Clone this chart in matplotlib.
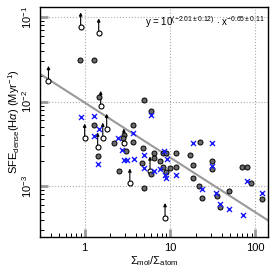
import numpy as np
import matplotlib
matplotlib.use("Agg")
import matplotlib.pyplot as plt
from matplotlib.ticker import LogLocator, NullFormatter

plt.rcParams["font.family"] = ["Liberation Sans", "DejaVu Sans"]
plt.rcParams["mathtext.fontset"] = "custom"
plt.rcParams["mathtext.rm"] = "Liberation Sans"
plt.rcParams["mathtext.it"] = "Liberation Sans:italic"

# filled circles (detections)
fill_x = [0.873, 1.276, 1.46, 1.276, 1.42, 2.19, 2.51, 3.67, 4.94, 5.98, 3.67, 2.88,
          2.80, 3.04, 4.94, 4.81, 4.69, 5.98, 6.48, 6.48, 7.63, 8.27, 8.97, 8.27,
          8.97, 10.0, 11.8, 11.8, 17.2, 18.7, 18.7, 22.5, 31.2, 31.2, 21.9, 23.8,
          35.7, 49.4, 38.7, 70.3, 80.5, 89.7, 117.7]
fill_y = [0.0312, 0.0312, 0.01146, 0.00536, 0.00225, 0.00321, 0.00150, 0.00338,
          0.0105, 0.00783, 0.00536, 0.00409, 0.00367, 0.00258, 0.000946, 0.00280,
          0.00187, 0.00138, 0.00245, 0.00213, 0.00197, 0.00245, 0.00245, 0.00167,
          0.00146, 0.00163, 0.00245, 0.00167, 0.00232, 0.00177, 0.00124, 0.00330,
          0.00197, 0.00158, 0.00100, 0.000723, 0.000763, 0.000873, 0.000566,
          0.00167, 0.00167, 0.00108, 0.000703]

# open circles (lower limits)
lim_x = [0.897, 1.46, 0.377, 1.54, 1.0, 1.81, 1.63, 1.42, 2.88, 3.38, 5.82, 8.73]
lim_y = [0.0762, 0.0648, 0.0177, 0.00897, 0.00367, 0.00481, 0.00377, 0.00288,
         0.00321, 0.00108, 0.00150, 0.000421]

# blue crosses
cross_x = [0.897, 1.276, 1.46, 1.276, 2.44, 1.42, 3.67, 5.98, 2.72, 2.88, 3.12, 3.77,
           4.94, 4.94, 6.48, 7.63, 8.50, 9.22, 8.73, 8.97, 11.8, 18.7, 31.2, 31.2,
           23.8, 34.8, 38.7, 49.4, 72.2, 80.5, 117.7]
cross_y = [0.00666, 0.00685, 0.00481, 0.00398, 0.00377, 0.00182, 0.00431, 0.00703,
           0.00265, 0.00202, 0.00202, 0.00208, 0.00232, 0.00163, 0.00150, 0.00158,
           0.00258, 0.00208, 0.00135, 0.00124, 0.00135, 0.00321, 0.00321, 0.00172,
           0.000922, 0.000828, 0.000614, 0.000536, 0.000456, 0.00115, 0.000828]

# fit: y = 10^a * x^b
fit_a = -2.01
fit_b = -0.65

fig = plt.figure(figsize=(2.74, 2.74), dpi=100)
ax = fig.add_axes([0.146, 0.135, 0.832, 0.839])
ax.set_xscale("log")
ax.set_yscale("log")
ax.set_xlim(0.3, 140)
ax.set_ylim(2.5e-4, 0.132)

ax.grid(True, which="major", ls=":", color="#aaaaaa", lw=0.8)

xx = np.logspace(np.log10(0.3), np.log10(140), 50)
ax.plot(xx, 10**fit_a * xx**fit_b, color="#999999", lw=1.5, zorder=2)

for x, y in zip(lim_x, lim_y):
    ax.annotate("", xy=(x, y * 1.5), xytext=(x, y),
                arrowprops=dict(arrowstyle="-|>", color="black", lw=0.8,
                                mutation_scale=4.5, shrinkA=0, shrinkB=0),
                zorder=3)
ax.scatter(lim_x, lim_y, s=13, facecolor="white", edgecolor="black", lw=0.8, zorder=4)
ax.scatter(fill_x, fill_y, s=13, facecolor="#6a6a6a", edgecolor="black", lw=0.7, zorder=4)
ax.scatter(cross_x, cross_y, s=13, marker="x", color="#1a1aff", lw=1.0, zorder=5)

ax.xaxis.set_minor_locator(LogLocator(base=10, subs=np.arange(2, 10), numticks=10))
ax.yaxis.set_minor_locator(LogLocator(base=10, subs=np.arange(2, 10), numticks=10))
ax.xaxis.set_minor_formatter(NullFormatter())
ax.yaxis.set_minor_formatter(NullFormatter())
ax.set_xticks([1, 10, 100])
ax.set_xticklabels(["1", "10", "100"])
ax.set_yticks([1e-3, 1e-2, 1e-1])
ax.set_yticklabels(["$10^{-3}$", "$10^{-2}$", "$10^{-1}$"], rotation=90, va="center")

ax.tick_params(which="major", direction="in", length=6, width=2, color="#999999",
               labelsize=8, pad=4)
ax.tick_params(which="minor", direction="in", length=3, width=0.7, color="black")
for s in ax.spines.values():
    s.set_linewidth(1.0)

ax.set_xlabel(r"$\Sigma_{\rm mol}/\Sigma_{\rm atom}$", fontsize=8, labelpad=1)
ax.set_ylabel(r"SFE$_{\rm dense}$(H$\alpha$) (Myr$^{-1}$)", fontsize=8)
ax.yaxis.set_label_coords(-0.08, 0.5)

ax.text(0.985, 0.935, r"y = 10$^{(-2.01\pm0.12)}$ $\cdot$ x$^{-0.65\pm0.11}$",
        transform=ax.transAxes, ha="right", va="center", fontsize=7)

fig.savefig("out.png", dpi=100)
